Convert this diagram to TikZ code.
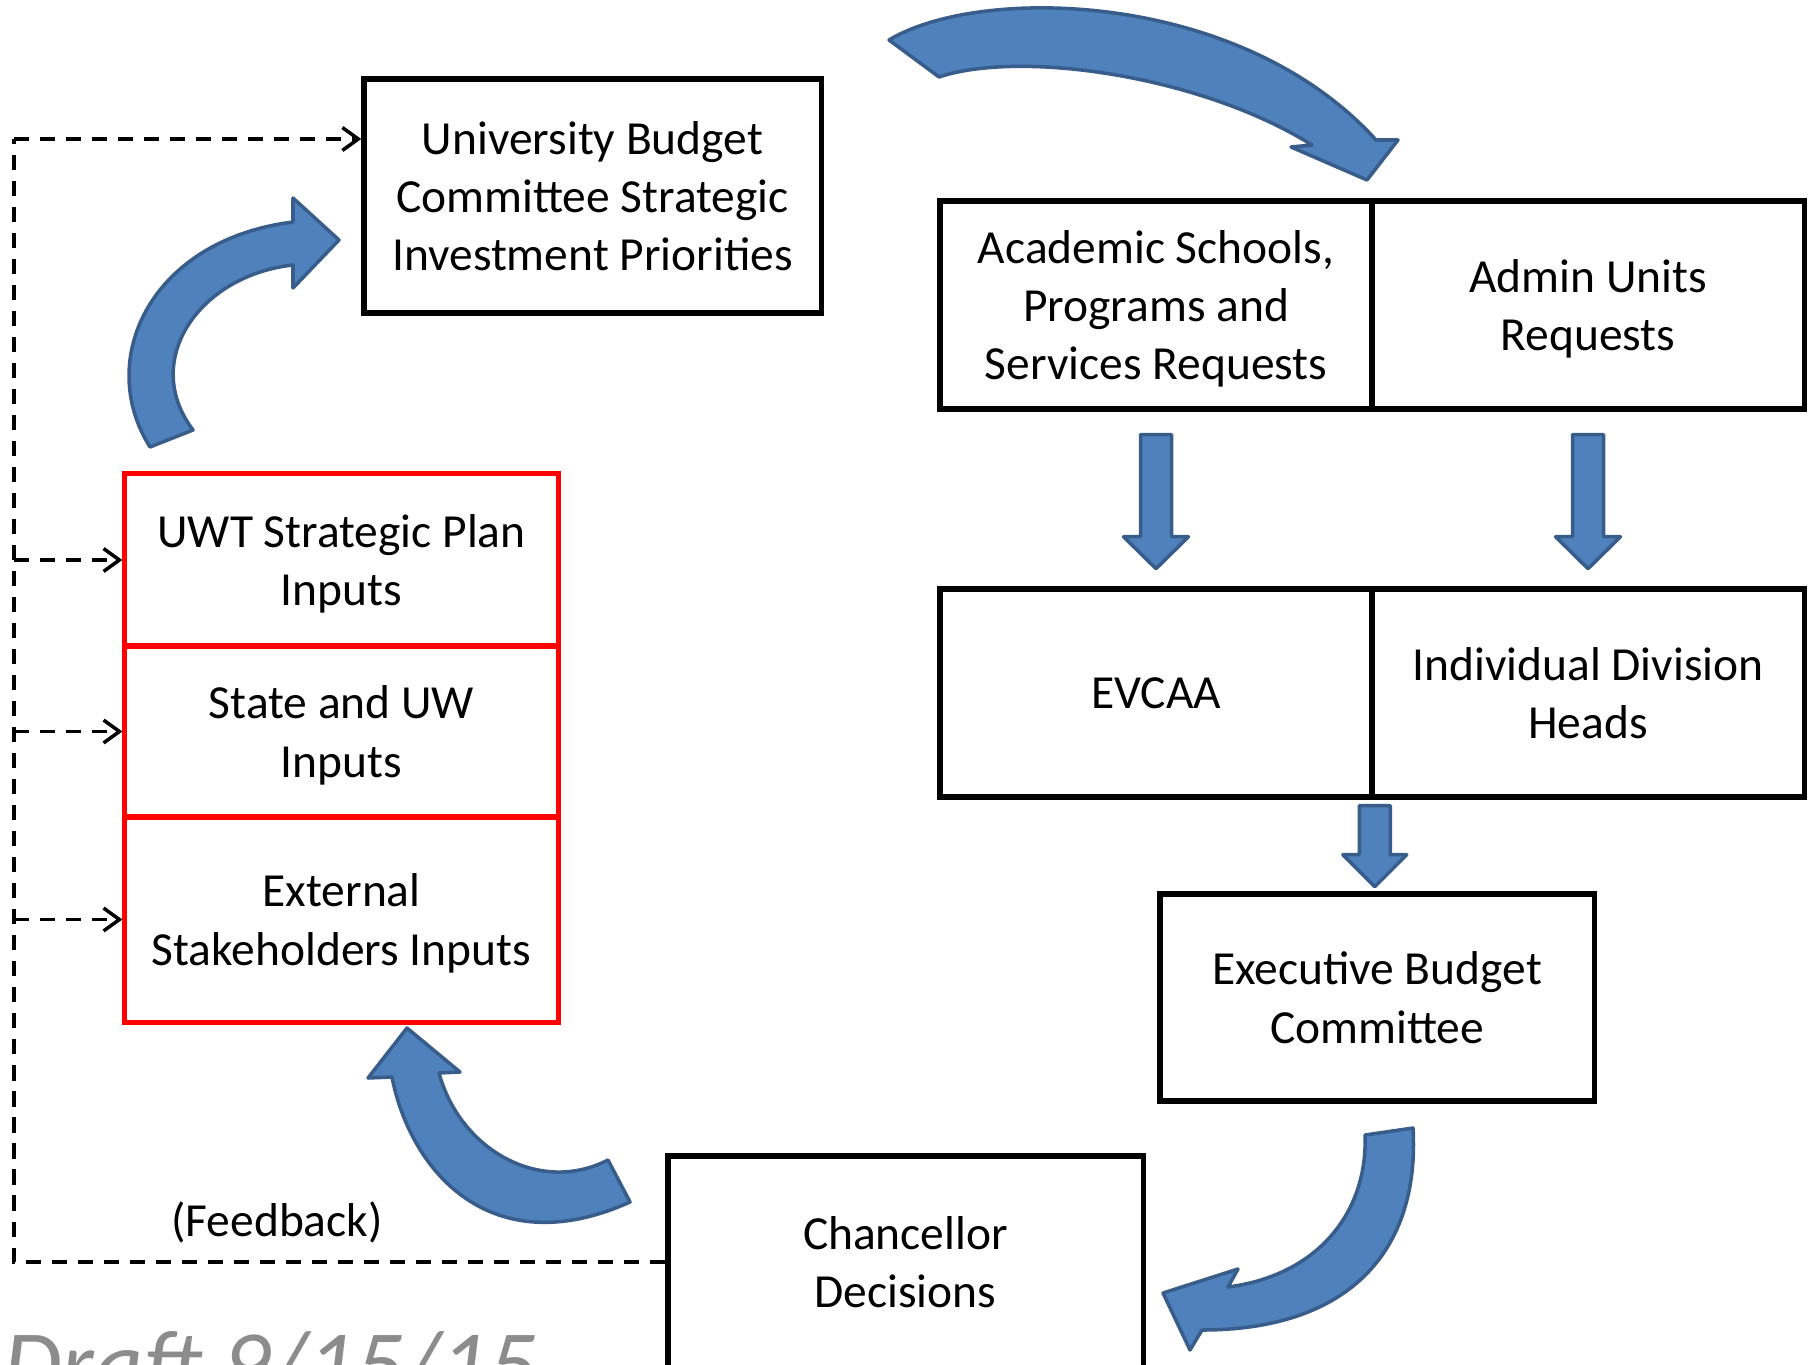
\documentclass[tikz,border=0pt]{standalone}
\usepackage{fontspec}
\setmainfont{Carlito}
\usetikzlibrary{arrows.meta}
\definecolor{arrowblue}{HTML}{4F81BD}
\definecolor{arrowedge}{HTML}{385D8A}
\definecolor{draftgray}{RGB}{140,140,140}
\tikzset{
	box/.style={draw=black,line width=1.5pt,align=center,inner sep=0pt,text depth=0pt,
		minimum width=4.32cm,minimum height=2.08cm,font=\fontsize{13.5}{16.5}\selectfont},
	inbox/.style={box,draw=red,line width=1.4pt,minimum width=4.33cm},
	blockarrow/.style={fill=arrowblue,draw=arrowedge,line width=1pt,line join=round},
	fb/.style={dashed,line width=1pt,dash pattern=on 4.3pt off 3.1pt},
	fbtip/.style={-{Straight Barb[length=4.5pt,width=6.5pt]}},
	lbl/.style={font=\fontsize{13.5}{16.5}\selectfont},
}
\begin{document}
\begin{tikzpicture}[x=0.01cm,y=-0.01cm]
		\useasboundingbox (0,0) rectangle (1816,1364);
		\node[box,minimum width=4.57cm,minimum height=2.34cm] (ubc) at (592.5,196) {University Budget\\Committee Strategic\\Investment Priorities};
		\node[box] (acad) at (1156,305) {Academic Schools,\\Programs and\\Services Requests};
		\node[box] (admin) at (1588,305) {Admin Units\\Requests};
		\node[box] (evcaa) at (1156,693) {EVCAA};
		\node[box] (divn) at (1588,693) {Individual Division\\Heads};
		\node[box,minimum width=4.34cm,minimum height=2.07cm] (exec) at (1377,997.5) {Executive Budget\\Committee};
		\node[box,minimum width=4.75cm,minimum height=2.12cm] (chanc) at (905.5,1262) {Chancellor\\Decisions};
		\node[inbox,minimum height=1.72cm] (uwt) at (341.5,560) {UWT Strategic Plan\\Inputs};
		\node[inbox,minimum height=1.71cm] (state) at (341.5,731.5) {State and UW\\Inputs};
		\node[inbox,minimum height=2.05cm] (ext) at (341.5,919.5) {External\\Stakeholders Inputs};
		\node[lbl] (fbk) at (277,1222) {(Feedback)};
		\node[anchor=base west,text=draftgray,font=\fontsize{27}{32}\selectfont\itshape] (draft) at (-9,1396) {Draft 9/15/15};
		\coordinate (bl) at (14,1262);
		\coordinate (tl) at (14,139);
		\draw[fb] (chanc.west) -- (bl) -- (tl);
		\draw[fb,fbtip] (tl) -- (tl -| ubc.west);
		\foreach \b in {uwt,state,ext}
			\draw[fb,fbtip] (\b.west -| tl) -- (\b.west);
		\foreach \b in {acad,admin}
			\draw[blockarrow] (\b.south) ++(-15.5,23) -- ++(31,0) -- ++(0,102) -- ++(17,0) -- ++(-32.5,32) -- ++(-32.5,-32) -- ++(17,0) -- cycle;
		\draw[blockarrow] (evcaa.south east) ++(-15.5,6) -- ++(31,0) -- ++(0,49) -- ++(16.5,0) -- ++(-32,32) -- ++(-32,-32) -- ++(16.5,0) -- cycle;
		\draw[blockarrow] (889,40) .. controls (980,-15) and (1240,-10) .. (1376,140) -- (1398,140) -- (1367,180) -- (1291,147) -- (1312,145) .. controls (1200,75) and (1020,50) .. (939,77) -- cycle;
		\draw[blockarrow] (150,447) .. controls (95,360) and (150,240) .. (293,222) -- (293,198) -- (339,240) -- (293,288) -- (293,265) .. controls (200,275) and (140,360) .. (193,430) -- cycle;
		\draw[blockarrow] (608,1160) .. controls (540,1195) and (460,1150) .. (439,1073) -- (460,1072) -- (407,1028) -- (368,1078) -- (392,1077) .. controls (410,1170) and (490,1265) .. (630,1202) -- cycle;
		\draw[blockarrow] (1413,1128) .. controls (1420,1250) and (1350,1330) .. (1202,1330) -- (1190,1350) -- (1163,1293) -- (1238,1269) -- (1228,1287) .. controls (1320,1275) and (1368,1210) .. (1365,1135) -- cycle;
	\end{tikzpicture}
\end{document}
